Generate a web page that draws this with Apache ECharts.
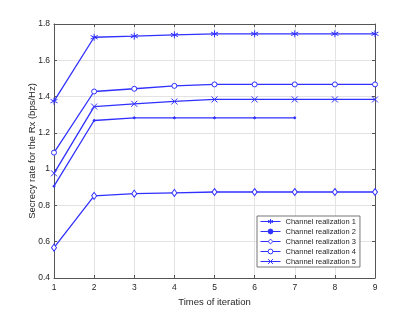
<!DOCTYPE html>
<html>
<head>
<meta charset="utf-8">
<script src="https://cdn.jsdelivr.net/npm/echarts@6/dist/echarts.min.js"></script>
<style>html,body{margin:0;padding:0;background:#fff}#c{width:415px;height:312px}</style>
</head>
<body>
<div id="c"></div>
<script>
var iterations = [1, 2, 3, 4, 5, 6, 7, 8, 9];
var seriesNames = ['Channel realization 1', 'Channel realization 2', 'Channel realization 3', 'Channel realization 4', 'Channel realization 5'];
var rate1 = [1.375, 1.727, 1.733, 1.740, 1.746, 1.746, 1.746, 1.746, 1.746];
var rate2 = [0.906, 1.268, 1.283, 1.283, 1.283, 1.283, 1.283];
var rate3 = [0.567, 0.853, 0.865, 0.869, 0.874, 0.874, 0.874, 0.874, 0.874];
var rate4 = [1.091, 1.428, 1.443, 1.459, 1.467, 1.467, 1.467, 1.467, 1.467];
var rate5 = [0.977, 1.345, 1.360, 1.373, 1.384, 1.384, 1.384, 1.384, 1.384];
var yTicks = { min: 0.4, max: 1.8, interval: 0.2 };
var xTicks = { min: 1, max: 9, interval: 1 };

var BLUE = '#3030ff';
var FONT = 'Liberation Sans';
var symAsterisk = 'path://M0,-5L0,5M-4.33,-2.5L4.33,2.5M-4.33,2.5L4.33,-2.5';
var symCross = 'path://M-4,-4L4,4M-4,4L4,-4';
var symCircle = 'path://M-3,0A3,3 0 1 0 3,0A3,3 0 1 0 -3,0Z';
var symDiamond = 'path://M0,-5L3.2,0L0,5L-3.2,0Z';

function pairs(vals) { return vals.map(function (v, i) { return [iterations[i], v]; }); }

function mk(name, vals, symbol, size, fill) {
  return {
    name: name, type: 'line', data: pairs(vals), symbol: symbol, symbolSize: size,
    showAllSymbol: true, animation: false,
    lineStyle: { color: BLUE, width: 1.3 },
    itemStyle: { color: fill, borderColor: BLUE, borderWidth: 1 },
    emphasis: { disabled: true }
  };
}

var axisLine = { show: true, lineStyle: { color: '#555', width: 1 } };
var chart = echarts.init(document.getElementById('c'), null, { renderer: 'canvas' });
chart.setOption({
  backgroundColor: '#fff',
  animation: false,
  grid: { left: 54, right: 40, top: 24, bottom: 34, containLabel: false },
  xAxis: [{
    type: 'value', min: xTicks.min, max: xTicks.max, interval: xTicks.interval,
    name: 'Times of iteration', nameLocation: 'middle', nameGap: 19, nameMoveOverlap: false,
    nameTextStyle: { fontFamily: FONT, fontSize: 9.5, color: '#262626' },
    axisLine: axisLine, axisTick: { inside: true, length: 3, lineStyle: { color: '#555' } },
    axisLabel: { fontFamily: FONT, fontSize: 8.5, color: '#262626', margin: 5 },
    splitLine: { show: true, lineStyle: { color: '#e3e3e3', width: 1 } }
  }, {
    type: 'value', position: 'top', min: xTicks.min, max: xTicks.max, interval: xTicks.interval,
    axisLine: axisLine, axisTick: { inside: true, length: 3, lineStyle: { color: '#555' } },
    axisLabel: { show: false }, splitLine: { show: false }
  }],
  yAxis: [{
    type: 'value', min: yTicks.min, max: yTicks.max, interval: yTicks.interval,
    name: 'Secrecy rate for the Rx (bps/Hz)', nameLocation: 'middle', nameGap: 17, nameRotate: 90,
    nameMoveOverlap: false,
    nameTextStyle: { fontFamily: FONT, fontSize: 9.5, color: '#262626' },
    axisLine: axisLine, axisTick: { inside: true, length: 3, lineStyle: { color: '#555' } },
    axisLabel: { fontFamily: FONT, fontSize: 8.5, color: '#262626', margin: 4 },
    splitLine: { show: true, lineStyle: { color: '#e3e3e3', width: 1 } }
  }, {
    type: 'value', position: 'right', min: yTicks.min, max: yTicks.max, interval: yTicks.interval,
    axisLine: axisLine, axisTick: { inside: true, length: 3, lineStyle: { color: '#555' } },
    axisLabel: { show: false }, splitLine: { show: false }
  }],
  legend: {
    data: seriesNames, orient: 'vertical', left: 257, top: 216,
    padding: [1, 4, 1, 3], itemGap: 1, itemWidth: 20, itemHeight: 6,
    backgroundColor: '#fff', borderColor: '#777', borderWidth: 1, borderRadius: 0,
    lineStyle: { width: 1 },
    itemStyle: { borderWidth: 1 },
    textStyle: { fontFamily: FONT, fontSize: 7.5, lineHeight: 9, color: '#262626' },
    selectedMode: false
  },
  series: [
    mk(seriesNames[0], rate1, symAsterisk, 7, BLUE),
    mk(seriesNames[1], rate2, 'circle', 2, BLUE),
    mk(seriesNames[2], rate3, symDiamond, [5, 7], '#fff'),
    mk(seriesNames[3], rate4, symCircle, 5, '#fff'),
    mk(seriesNames[4], rate5, symCross, 6, BLUE)
  ]
});
</script>
</body>
</html>
